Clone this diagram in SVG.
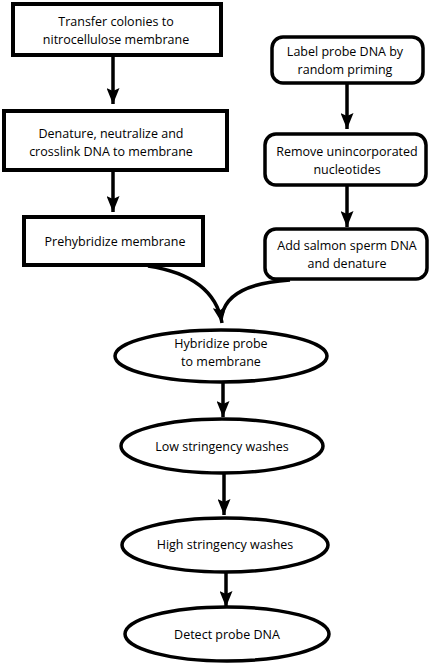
<svg xmlns="http://www.w3.org/2000/svg" width="430" height="663" viewBox="0 0 430 663">
<defs>
<marker id="ah" viewBox="0 0 16 13" refX="16" refY="6.5" markerWidth="16" markerHeight="13" markerUnits="userSpaceOnUse" orient="auto">
<path d="M0,0 L16,6.5 L0,13 L3,6.5 Z" fill="#000"/>
</marker>
<style>
.box{fill:#fff;stroke:#000;stroke-width:4}
.rbox{fill:#fff;stroke:#000;stroke-width:3.5}
.ell{fill:#fff;stroke:#000;stroke-width:3.5}
.t{font-family:"Open Sans","Noto Sans",sans-serif;font-size:12.5px;fill:#000;text-anchor:middle}
.c{fill:none;stroke:#000;stroke-width:3.5}
</style>
</defs>
<rect width="430" height="663" fill="#fff"/>
<g id="connectors">
<line class="c" x1="113" y1="56" x2="113" y2="104" marker-end="url(#ah)"/>
<line class="c" x1="113" y1="171" x2="113" y2="212" marker-end="url(#ah)"/>
<line class="c" x1="347" y1="84" x2="347" y2="129" marker-end="url(#ah)"/>
<line class="c" x1="347" y1="186" x2="347" y2="227" marker-end="url(#ah)"/>
<path class="c" d="M148,266 Q214,276 222,323" marker-end="url(#ah)"/>
<path class="c" d="M290,280 Q228,284 222,315"/>
<line class="c" x1="223" y1="383" x2="223" y2="417" marker-end="url(#ah)"/>
<line class="c" x1="224" y1="474" x2="224" y2="515" marker-end="url(#ah)"/>
<line class="c" x1="226" y1="573" x2="226" y2="607" marker-end="url(#ah)"/>
</g>
<g id="n1"><rect class="box" x="13" y="4" width="208" height="51"/>
<text class="t" x="116" y="25.5">Transfer colonies to</text>
<text class="t" x="116" y="43.5">nitrocellulose membrane</text></g>
<g id="n2"><rect class="box" x="4" y="111" width="223" height="59"/>
<text class="t" x="111" y="138">Denature, neutralize and</text>
<text class="t" x="111" y="156">crosslink DNA to membrane</text></g>
<g id="n3"><rect class="box" x="24" y="217" width="179" height="48"/>
<text class="t" x="115" y="246">Prehybridize membrane</text></g>
<g id="n4"><rect class="rbox" x="272" y="37" width="151" height="46" rx="11"/>
<text class="t" x="345" y="55.5">Label probe DNA by</text>
<text class="t" x="345" y="73.5">random priming</text></g>
<g id="n5"><rect class="rbox" x="265" y="134" width="161" height="51" rx="11"/>
<text class="t" x="347" y="156">Remove unincorporated</text>
<text class="t" x="347" y="174">nucleotides</text></g>
<g id="n6"><rect class="rbox" x="265" y="229" width="162" height="50" rx="11"/>
<text class="t" x="347" y="249.5">Add salmon sperm DNA</text>
<text class="t" x="347" y="267.5">and denature</text></g>
<g id="n7"><ellipse class="ell" cx="221" cy="356" rx="106" ry="26"/>
<text class="t" x="221" y="347.5">Hybridize probe</text>
<text class="t" x="221" y="365.5">to membrane</text></g>
<g id="n8"><ellipse class="ell" cx="222" cy="446" rx="101" ry="27"/>
<text class="t" x="222" y="451">Low stringency washes</text></g>
<g id="n9"><ellipse class="ell" cx="225" cy="545" rx="103" ry="27"/>
<text class="t" x="225" y="549">High stringency washes</text></g>
<g id="n10"><ellipse class="ell" cx="227" cy="634" rx="102" ry="27"/>
<text class="t" x="227" y="639">Detect probe DNA</text></g>
</svg>
